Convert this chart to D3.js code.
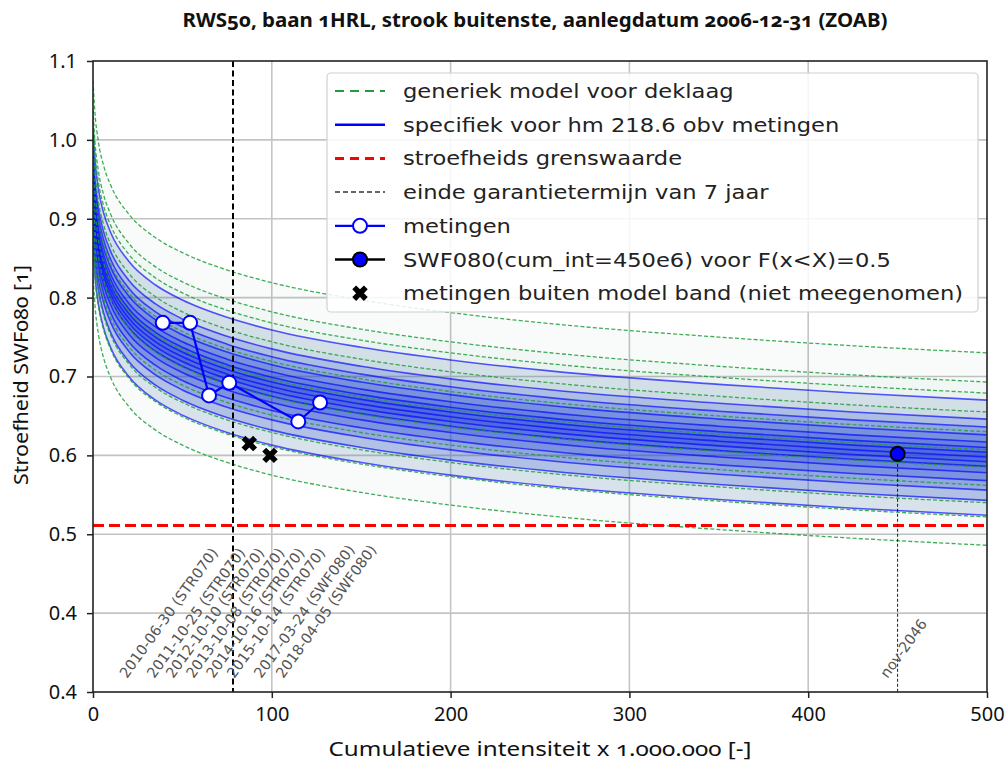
<!DOCTYPE html>
<html lang="nl"><head><meta charset="utf-8">
<script src="https://cdn.jsdelivr.net/npm/d3@7"></script>
<style>
body{margin:0;background:#fff;}
svg{display:block;}
.onum{font-family:'Noto Sans',sans-serif;font-variant-numeric:oldstyle-nums;}
</style></head><body>
<svg id="chart" width="1008" height="765"></svg>
<script>
// ---- data ----
const xGrid     = [0, 1, 3, 6, 10, 20, 35, 50, 75, 100, 150, 200, 275, 350, 425, 500];
const shapeDrop = [0.345, 0.307, 0.268, 0.237, 0.212, 0.176, 0.146, 0.127, 0.105, 0.089, 0.067, 0.051, 0.033, 0.020, 0.009, 0];
const greenAt500 = [0.730, 0.693, 0.679, 0.655, 0.630, 0.607, 0.585, 0.562, 0.540, 0.522, 0.486];
const blueAt500  = [0.670, 0.646, 0.636, 0.626, 0.617, 0.610, 0.604, 0.598, 0.592, 0.586, 0.578, 0.568, 0.556, 0.543, 0.524];
const measX = [39.0, 54.3, 64.9, 76.2, 114.8, 127.0];
const measY = [0.768, 0.768, 0.676, 0.692, 0.643, 0.667];
const outX = [87.4, 99.0];
const outY = [0.615, 0.600];
const dateX = [39.0, 54.3, 64.9, 76.2, 87.4, 99.0, 114.8, 127.0];
const dateLabels = ["2010-06-30 (STR070)", "2011-10-25 (STR070)", "2012-10-10 (STR070)", "2013-10-08 (STR070)",
                    "2014-10-16 (STR070)", "2015-10-14 (STR070)", "2017-03-24 (SWF080)", "2018-04-05 (SWF080)"];
const limitValue = 0.511;
const guaranteeX = 78.3;
const predX = [450];
const predY = [0.602];
const predLabel = "nov-2046";
const xTicks = [0, 100, 200, 300, 400, 500];
const xTickLabels = ["0", "100", "200", "300", "400", "500"];
const yTicks = [0.3, 0.4, 0.5, 0.6, 0.7, 0.8, 0.9, 1.0, 1.1];
const yTickLabels = ["0.4", "0.4", "0.5", "0.6", "0.7", "0.8", "0.9", "1.0", "1.1"];
const legendLabels = ["generiek model voor deklaag", "specifiek voor hm 218.6 obv metingen", "stroefheids grenswaarde",
  "einde garantietermijn van 7 jaar", "metingen", "SWF080(cum_int=450e6) voor F(x<X)=0.5",
  "metingen buiten model band (niet meegenomen)"];
const titleText = "RWS50, baan 1HRL, strook buitenste, aanlegdatum 2006-12-31 (ZOAB)";
const xLabelText = "Cumulatieve intensiteit x 1.000.000 [-]";
const yLabelText = "Stroefheid SWF080 [1]";

// ---- layout ----
const L = 93, R = 987, T = 61, B = 692;
const svg = d3.select("#chart");
const x = d3.scaleLinear().domain([0, 500]).range([L, R]);
const y = d3.scaleLinear().domain([0.3, 1.1]).range([B, T]);
const mplFont = "'DejaVu Sans', sans-serif";

svg.append("defs").append("clipPath").attr("id", "clip")
  .append("rect").attr("x", L).attr("y", T).attr("width", R - L).attr("height", B - T);

const curve = v => xGrid.map((gx, k) => ({x: gx, y: v + shapeDrop[k]}));
const line = d3.line().x(d => x(d.x)).y(d => y(d.y)).curve(d3.curveMonotoneX);
const band = (lo, hi) => d3.area().x(d => x(d.x)).y0((d, k) => y(lo[k].y)).y1(d => y(d.y)).curve(d3.curveMonotoneX)(hi);

// grid
const grid = svg.append("g");
grid.selectAll(".gx").data(xTicks.slice(1, -1)).join("line")
  .attr("x1", d => x(d)).attr("x2", d => x(d)).attr("y1", T).attr("y2", B)
  .attr("stroke", "#c4c4c4").attr("stroke-width", 1.6);
grid.selectAll(".gy").data(yTicks.slice(1, -1)).join("line")
  .attr("x1", L).attr("x2", R).attr("y1", d => y(d)).attr("y2", d => y(d))
  .attr("stroke", "#c4c4c4").attr("stroke-width", 1.6);

const plot = svg.append("g").attr("clip-path", "url(#clip)");
const greens = greenAt500.map(curve);
const blues = blueAt500.map(curve);

for (let i = 0; i < Math.floor(greens.length / 2); i++) {
  plot.append("path").attr("d", band(greens[greens.length - 1 - i], greens[i]))
    .attr("fill", "#2e8b57").attr("fill-opacity", 0.03);
}
for (let i = 0; i < Math.floor(blues.length / 2); i++) {
  plot.append("path").attr("d", band(blues[blues.length - 1 - i], blues[i]))
    .attr("fill", i === 0 ? "#5a78b8" : "#1c3ce0").attr("fill-opacity", i === 0 ? 0.16 : 0.18);
}
plot.selectAll(".bl").data(blues).join("path").attr("d", line)
  .attr("fill", "none").attr("stroke", "#0000ff").attr("stroke-opacity", 0.65).attr("stroke-width", 1.6);
plot.selectAll(".gl").data(greens).join("path").attr("d", line)
  .attr("fill", "none").attr("stroke", "#1f9e3a").attr("stroke-opacity", 0.85)
  .attr("stroke-width", 1.3).attr("stroke-dasharray", "4,2.2");

plot.append("line").attr("x1", L).attr("x2", R).attr("y1", y(limitValue)).attr("y2", y(limitValue))
  .attr("stroke", "#ff0000").attr("stroke-width", 3).attr("stroke-dasharray", "11,5");
plot.append("line").attr("x1", x(guaranteeX)).attr("x2", x(guaranteeX)).attr("y1", T).attr("y2", B)
  .attr("stroke", "#000").attr("stroke-width", 2).attr("stroke-dasharray", "6,3.5");
plot.append("line").attr("x1", x(predX[0])).attr("x2", x(predX[0])).attr("y1", y(predY[0])).attr("y2", B)
  .attr("stroke", "#000").attr("stroke-width", 0.9).attr("stroke-dasharray", "3,2");

const meas = measX.map((d, i) => ({x: d, y: measY[i]}));
plot.append("path").attr("d", d3.line().x(d => x(d.x)).y(d => y(d.y))(meas))
  .attr("fill", "none").attr("stroke", "#0000ff").attr("stroke-width", 2.2);
plot.selectAll(".mc").data(meas).join("circle")
  .attr("cx", d => x(d.x)).attr("cy", d => y(d.y)).attr("r", 7)
  .attr("fill", "#fff").attr("stroke", "#0000ff").attr("stroke-width", 2);
const xSym = d3.symbol().type(d3.symbolCross).size(150);
plot.selectAll(".ox").data(outX).join("path")
  .attr("d", xSym).attr("transform", (d, i) => `translate(${x(d)},${y(outY[i])}) rotate(45)`)
  .attr("fill", "#000");
plot.selectAll(".pp").data(predX).join("circle")
  .attr("cx", d => x(d)).attr("cy", (d, i) => y(predY[i])).attr("r", 7)
  .attr("fill", "#0000ff").attr("stroke", "#000").attr("stroke-width", 2);

const ang = 54, rad = ang * Math.PI / 180;
function rotLabel(px, text) {
  const t = svg.append("text").text(text).attr("font-family", mplFont).attr("font-size", 14.5)
    .attr("fill", "#555");
  const len = t.node().getComputedTextLength();
  const sx = px + 10 - len * Math.cos(rad) / 2;
  t.attr("transform", `translate(${sx},679) rotate(${-ang})`);
}
dateX.forEach((d, i) => rotLabel(x(d), dateLabels[i]));
rotLabel(x(predX[0]), predLabel);

svg.append("rect").attr("x", L).attr("y", T).attr("width", R - L).attr("height", B - T)
  .attr("fill", "none").attr("stroke", "#222").attr("stroke-width", 1.6);

// axes
const xAx = svg.append("g").attr("transform", `translate(0,${B})`)
  .call(d3.axisBottom(x).tickValues(xTicks).tickFormat((d, i) => xTickLabels[i]).tickSize(6).tickPadding(9));
const yAx = svg.append("g").attr("transform", `translate(${L},0)`)
  .call(d3.axisLeft(y).tickValues(yTicks).tickFormat((d, i) => yTickLabels[i]).tickSize(6).tickPadding(10));
[xAx, yAx].forEach(a => {
  a.select(".domain").remove();
  a.selectAll(".tick line").attr("stroke", "#222").attr("stroke-width", 1.5);
  a.selectAll("text").attr("fill", "#111")
    .style("font-family", "'Noto Sans', sans-serif").style("font-size", "20px");
});

function fitText(sel, w) {
  sel.attr("textLength", w).attr("lengthAdjust", "spacingAndGlyphs");
}
fitText(svg.append("text").attr("class", "onum").attr("x", 535).attr("y", 27).attr("text-anchor", "middle")
  .attr("font-weight", "bold").style("font-size", "20px").attr("fill", "#111").text(titleText), 705);
fitText(svg.append("text").attr("class", "onum").attr("x", 540).attr("y", 756).attr("text-anchor", "middle")
  .style("font-size", "19px").attr("fill", "#111").text(xLabelText), 423);
fitText(svg.append("text").attr("class", "onum").attr("transform", "translate(28,375) rotate(-90)").attr("text-anchor", "middle")
  .style("font-size", "19px").attr("fill", "#111").text(yLabelText), 220);

const lg = svg.append("g");
lg.append("rect").attr("x", 327).attr("y", 73).attr("width", 651).attr("height", 239).attr("rx", 4)
  .attr("fill", "#fff").attr("fill-opacity", 0.85).attr("stroke", "#d0d0d0").attr("stroke-width", 1.2);
const rowY = legendLabels.map((d, i) => 91 + i * 33.7);
const hx0 = 335, hx1 = 385, hxm = 360;
const rows = lg.selectAll(".lr").data(legendLabels).join("text")
  .attr("x", 403).attr("y", (d, i) => rowY[i]).attr("dy", "0.35em")
  .attr("font-family", mplFont).attr("font-size", 20).attr("fill", "#222").text(d => d);
const lastLen = rows.nodes()[legendLabels.length - 1].getComputedTextLength();
const kx = 560 / lastLen;
rows.each(function () {
  const l = this.getComputedTextLength();
  d3.select(this).attr("textLength", l * kx).attr("lengthAdjust", "spacingAndGlyphs");
});
const hl = (i, col, w, dash) => lg.append("line").attr("x1", hx0).attr("x2", hx1)
  .attr("y1", rowY[i]).attr("y2", rowY[i]).attr("stroke", col).attr("stroke-width", w)
  .attr("stroke-dasharray", dash || null);
hl(0, "#1f9e3a", 2.2, "9,6");
hl(1, "#0000ff", 2.5);
hl(2, "#ff0000", 3, "9,6");
hl(3, "#333", 1.5, "5,3");
hl(4, "#0000ff", 2.2);
lg.append("circle").attr("cx", hxm).attr("cy", rowY[4]).attr("r", 7).attr("fill", "#fff")
  .attr("stroke", "#0000ff").attr("stroke-width", 2);
hl(5, "#000", 2.5);
lg.append("circle").attr("cx", hxm).attr("cy", rowY[5]).attr("r", 7).attr("fill", "#0000ff")
  .attr("stroke", "#000").attr("stroke-width", 2);
lg.append("path").attr("d", xSym).attr("transform", `translate(${hxm},${rowY[6]}) rotate(45)`).attr("fill", "#000");
</script>
</body></html>
